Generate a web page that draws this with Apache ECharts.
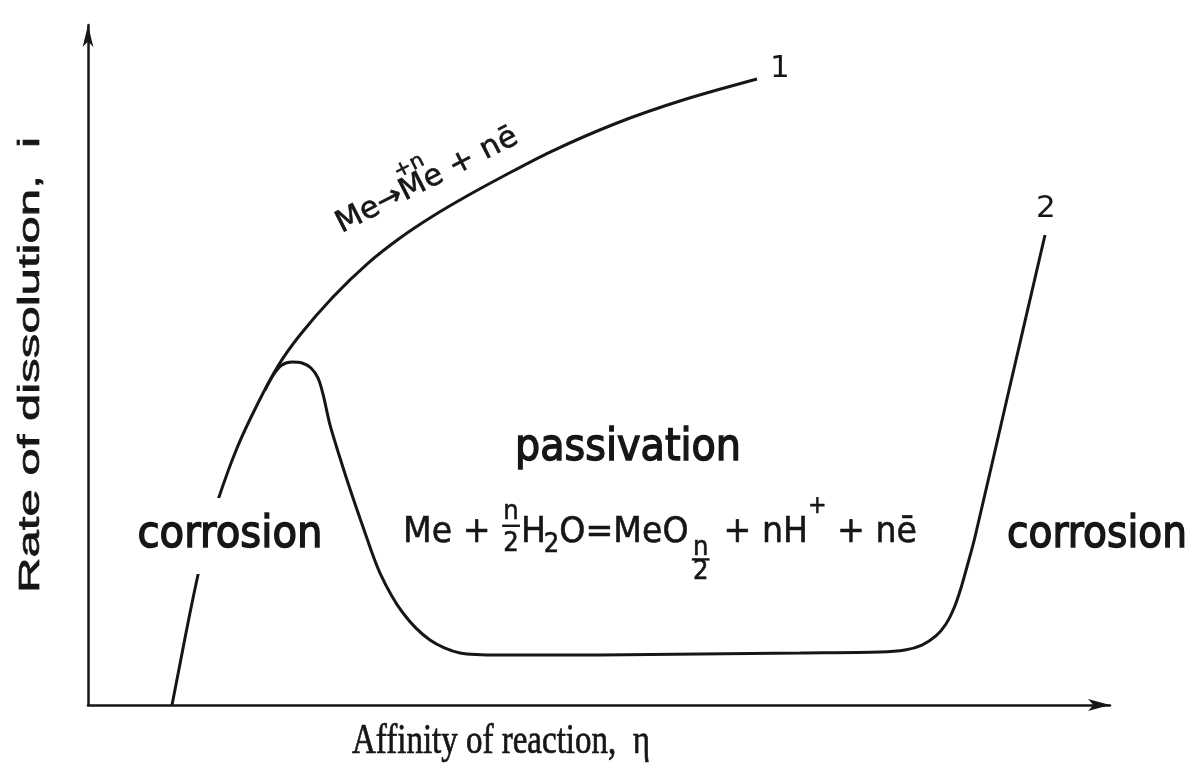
<!DOCTYPE html>
<html>
<head>
<meta charset="utf-8">
<title>Rate of dissolution vs affinity of reaction</title>
<script src="https://cdn.jsdelivr.net/npm/echarts@6.0.0/dist/echarts.min.js"></script>
<style>
  html, body { margin: 0; padding: 0; background: #ffffff; }
  #chart { width: 1197px; height: 781px; }
</style>
</head>
<body>
<div id="chart"></div>
<script>
// Curve 1: free anodic dissolution, rises steadily with affinity
const affinity1 = [8.22, 9.00, 9.78, 10.76, 11.64, 12.72, 14.58, 16.54, 18.59, 20.74,
                   23.97, 27.30, 30.53, 33.76, 37.08, 40.31, 45.21, 51.76, 58.22, 65.46];
const rate1     = [0.00, 6.03, 12.06, 19.12, 24.56, 30.15, 37.79, 44.12, 49.85, 54.41,
                   60.00, 64.85, 68.68, 71.91, 74.85, 77.50, 81.32, 85.59, 88.97, 92.06];

// Curve 2: passivating metal (peak, passive plateau, transpassive rise)
const affinity2 = [17.32, 18.20, 18.98, 19.96, 20.94, 21.82, 22.50, 22.99, 23.68, 24.66,
                   25.44, 26.91, 28.57, 30.82, 33.46, 36.40, 40.31, 50.10, 59.88, 69.67,
                   77.50, 79.94, 81.60, 82.97, 83.95, 84.74, 85.42, 86.11, 86.79, 90.12, 93.64];
const rate2     = [46.32, 48.68, 50.00, 50.44, 50.29, 49.56, 48.09, 45.74, 41.18, 36.32,
                   32.65, 26.18, 19.41, 13.53, 9.56, 7.65, 7.35, 7.35, 7.50, 7.65,
                   7.79, 8.09, 8.82, 10.15, 11.91, 14.26, 17.21, 20.88, 24.71, 46.32, 69.12];

const curveLabels  = ['1', '2'];
const xTitle       = 'Affinity of reaction,  η';
const yTitle       = 'Rate of dissolution,  i';
const regionLabels = ['corrosion', 'passivation', 'corrosion'];

// Me -> Me(+n) + n e  (written along curve 1)
const dissolutionParts = ['Me→Me', '+n', ' + nē'];
const dissolutionRoles = ['text', 'over', 'text'];
// Me + n/2 H2O = MeO(n/2) + nH+ + n e
const passiveParts = ['Me + ', ['n', '2'], 'H', '2', 'O=MeO', ['n', '2'], ' + nH', '+', ' + nē'];
const passiveRoles = ['text', 'frac', 'text', 'sub', 'text', 'fracLow', 'text', 'sup', 'text'];

const INK = '#161616';
const SANS = '"DejaVu Sans", "Noto Sans", sans-serif';

const measureCtx = document.createElement('canvas').getContext('2d');
function fontOf(size, family, weight) { return (weight || 'normal') + ' ' + size + 'px ' + family; }
function widthOf(text, font) { measureCtx.font = font; return measureCtx.measureText(text).width; }

function textEl(text, x, y, font, align, extra) {
  return Object.assign({
    type: 'text', x: x, y: y, silent: true, z: 100,
    style: {
      text: text, font: font, fill: INK,
      textAlign: align || 'center', align: align || 'center',
      textVerticalAlign: 'middle', verticalAlign: 'middle'
    }
  }, extra || {});
}

// Text stretched horizontally to a given width, centred on (cx, cy)
function fittedText(text, cx, cy, width, font, scaleY, rotation, styleExtra) {
  const el = textEl(text, cx, cy, font, 'center', {
    scaleX: width / widthOf(text, font), scaleY: scaleY, rotation: rotation || 0
  });
  Object.assign(el.style, styleExtra || {});
  return el;
}

// Lays out a small formula (fractions, sub/superscripts) left to right
function formulaGroup(parts, roles, roleCfg, family, left, midY, targetWidth, scaleY, rotation) {
  const children = [];
  let cursor = 0;
  parts.forEach(function (part, i) {
    const role = roleCfg[roles[i]];
    const font = fontOf(role.size, family);
    if (Array.isArray(part)) {
      const w = Math.max(widthOf(part[0], font), widthOf(part[1], font));
      const x0 = cursor + role.gap;
      children.push(textEl(part[0], x0 + w / 2, role.num, font));
      children.push({ type: 'rect', silent: true, z: 100,
        shape: { x: x0 - 1, y: role.bar - 1, width: w + 2, height: 2 }, style: { fill: INK } });
      children.push(textEl(part[1], x0 + w / 2, role.den, font));
      cursor = x0 + w + role.gap;
    } else if (role.over) {
      // placed above the preceding symbol, without advancing
      const back = widthOf(role.over, fontOf(roleCfg.text.size, family));
      children.push(textEl(part, cursor - back * 0.92, role.dy, font, 'left'));
    } else {
      const w = widthOf(part, font);
      children.push(textEl(part, cursor + role.gap, role.dy, font, 'left'));
      cursor += role.gap + w;
    }
  });
  children.forEach(function (c) {
    if (c.type === 'text') { c.style.stroke = INK; c.style.lineWidth = 0.5; }
  });
  return {
    type: 'group', x: left, y: midY, rotation: rotation || 0,
    scaleX: targetWidth / cursor, scaleY: scaleY, children: children
  };
}

const passiveRoleCfg = {
  text:    { size: 30, dy: 0, gap: 0 },
  sub:     { size: 22, dy: 10, gap: -2 },
  sup:     { size: 20, dy: -22, gap: 0 },
  frac:    { size: 22, num: -17, bar: -6, den: 9, gap: 2 },
  fracLow: { size: 22, num: 13, bar: 22, den: 33, gap: 4 }
};
const dissolutionRoleCfg = {
  text: { size: 26, dy: 0, gap: 0 },
  over: { size: 18, dy: -18, over: 'Me' }
};

function zip(xs, ys) { return xs.map(function (x, i) { return [x, ys[i]]; }); }

const chart = echarts.init(document.getElementById('chart'), null, { renderer: 'canvas' });

const axisCommon = {
  type: 'value', min: 0, max: 100,
  axisTick: { show: false }, axisLabel: { show: false }, splitLine: { show: false }
};

const curveStyle = { color: INK, width: 3 };
const endLabelStyle = {
  show: true, distance: 0, fontFamily: SANS, fontSize: 31, color: INK,
  align: 'left', verticalAlign: 'middle'
};

const regionFont = fontOf(38, SANS, 'normal');
const regionStroke = { stroke: INK, lineWidth: 1.3 };
const titleStroke = { stroke: INK, lineWidth: 0.7 };

chart.setOption({
  animation: false,
  backgroundColor: '#ffffff',
  grid: { left: 88, right: 87, top: 25, bottom: 76 },
  xAxis: Object.assign({}, axisCommon, {
    axisLine: { show: true, onZero: false, symbol: ['none', 'arrow'], symbolSize: [9, 22],
      lineStyle: { color: INK, width: 2.5 } }
  }),
  yAxis: Object.assign({}, axisCommon, {
    axisLine: { show: true, onZero: false, symbol: ['none', 'arrow'], symbolSize: [8, 22],
      lineStyle: { color: INK, width: 2.5 } }
  }),
  series: [
    {
      type: 'line', name: curveLabels[0], data: zip(affinity1, rate1),
      smooth: 0.3, symbol: 'none', clip: false, lineStyle: curveStyle,
      endLabel: Object.assign({}, endLabelStyle, { formatter: curveLabels[0], offset: [13, -10] })
    },
    {
      type: 'line', name: curveLabels[1], data: zip(affinity2, rate2),
      smooth: 0.3, symbol: 'none', clip: false, lineStyle: curveStyle,
      endLabel: Object.assign({}, endLabelStyle, { formatter: curveLabels[1], offset: [-9, -26] })
    }
  ],
  graphic: [
    // axis titles
    fittedText(yTitle, 31, 365, 456, fontOf(30, '"Liberation Sans", Arial, sans-serif'), 1, Math.PI / 2, titleStroke),
    fittedText(xTitle, 501, 742, 298, fontOf(40, '"Liberation Serif", "Times New Roman", serif'), 1.05, 0, titleStroke),
    // region names
    fittedText(regionLabels[0], 230, 536, 185, regionFont, 1.15, 0,
      Object.assign({ backgroundColor: '#ffffff', padding: [14, 2, 14, 2] }, regionStroke)),
    fittedText(regionLabels[1], 628, 449, 226, regionFont, 1.15, 0, regionStroke),
    fittedText(regionLabels[2], 1097, 536, 180, regionFont, 1.15, 0, regionStroke),
    // reactions
    formulaGroup(dissolutionParts, dissolutionRoles, dissolutionRoleCfg, SANS,
      338, 226, 200, 1.15, 27 * Math.PI / 180),
    formulaGroup(passiveParts, passiveRoles, passiveRoleCfg, SANS,
      403, 533, 514, 1.2, 0)
  ]
});
</script>
</body>
</html>
